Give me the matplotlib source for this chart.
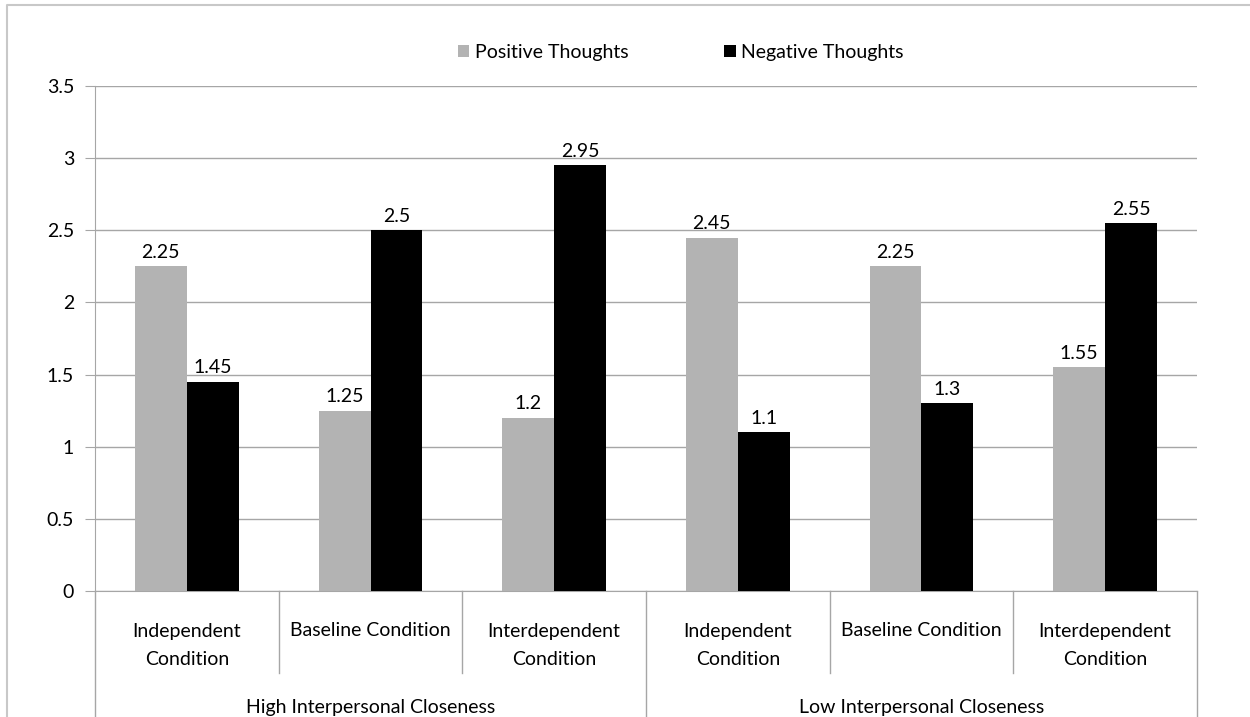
import matplotlib.pyplot as plt
import matplotlib.transforms as mtransforms
from matplotlib.lines import Line2D
import numpy as np

conditions = ["Independent\nCondition", "Baseline Condition", "Interdependent\nCondition",
              "Independent\nCondition", "Baseline Condition", "Interdependent\nCondition"]
groups = ["High Interpersonal Closeness", "Low Interpersonal Closeness"]
positive = [2.25, 1.25, 1.2, 2.45, 2.25, 1.55]
negative = [1.45, 2.5, 2.95, 1.1, 1.3, 2.55]
pos_labels = ["2.25", "1.25", "1.2", "2.45", "2.25", "1.55"]
neg_labels = ["1.45", "2.5", "2.95", "1.1", "1.3", "2.55"]
yticks = [0, 0.5, 1, 1.5, 2, 2.5, 3, 3.5]

plt.rcParams['font.family'] = ['Lato', 'DejaVu Sans']
GRID = "#a6a6a6"
FS = 14

fig = plt.figure(figsize=(12.5, 7.17), dpi=100)
ax = fig.add_axes([95 / 1250, 1 - 591 / 717, (1197 - 95) / 1250, (591 - 86) / 717])

x = np.arange(len(conditions))
w = 0.283
b1 = ax.bar(x - w / 2, positive, w, color="#b3b3b3", label="Positive Thoughts", zorder=3)
b2 = ax.bar(x + w / 2, negative, w, color="black", label="Negative Thoughts", zorder=3)
ax.bar_label(b1, labels=pos_labels, padding=4, fontsize=FS)
ax.bar_label(b2, labels=neg_labels, padding=4, fontsize=FS)

ax.set_xlim(-0.5, len(conditions) - 0.5)
ax.set_ylim(0, 3.5)
ax.set_yticks(yticks)
ax.set_yticklabels([f"{t:g}" for t in yticks], fontsize=FS)
ax.yaxis.grid(True, color=GRID, linewidth=1, zorder=0)
ax.tick_params(axis="y", length=7, color=GRID, pad=8)
ax.set_xticks([])
for s in ["top", "right"]:
    ax.spines[s].set_visible(False)
ax.spines["left"].set_color(GRID)
ax.spines["bottom"].set_color(GRID)

# two-level category axis
trans = mtransforms.blended_transform_factory(ax.transData, ax.transAxes)
for i in range(len(conditions) + 1):
    edge = i - 0.5
    bottom = -0.26 if i % 3 == 0 else -0.162
    ax.plot([edge, edge], [0, bottom], color=GRID, lw=1, transform=trans, clip_on=False)
for i, lab in enumerate(conditions):
    yy = -0.079 if "\n" not in lab else -0.108
    ax.text(i, yy, lab, transform=trans, ha="center", va="center", fontsize=FS,
            linespacing=1.8)
for g, lab in enumerate(groups):
    ax.text(g * 3 + 1, -0.23, lab, transform=trans, ha="center", va="center", fontsize=FS)

ax.legend(loc="center left", bbox_to_anchor=(0.329, 1.067), ncol=2, frameon=False,
          fontsize=FS, handlelength=0.6, handleheight=0.6, handletextpad=0.3,
          columnspacing=4.9, borderpad=0, borderaxespad=0)

# chart border
fig.add_artist(Line2D([7 / 1250, 7 / 1250, 1], [0, 1 - 5 / 717, 1 - 5 / 717],
                      color="#c8c8c8", lw=1.5, transform=fig.transFigure))

fig.savefig("out.png", dpi=100)
